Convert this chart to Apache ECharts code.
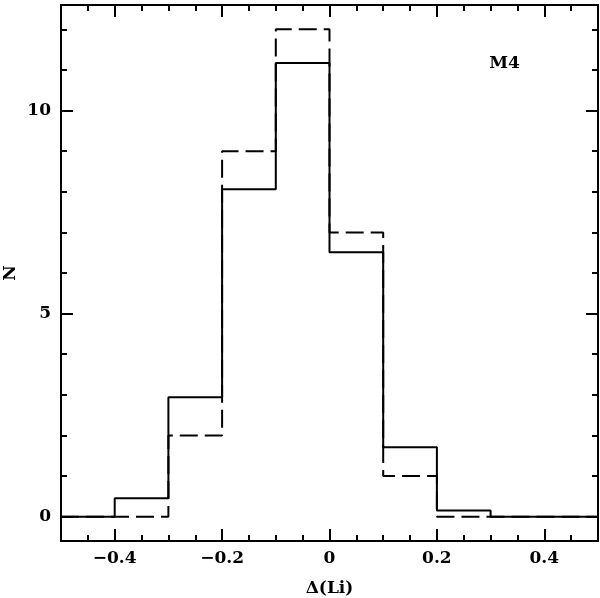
<!DOCTYPE html>
<html>
<head>
<meta charset="utf-8">
<script src="https://cdn.jsdelivr.net/npm/echarts@6/dist/echarts.min.js"></script>
<style>
  html, body { margin: 0; padding: 0; background: #fff; }
  #chart { width: 600px; height: 598px; }
</style>
</head>
<body>
<div id="chart"></div>
<script>
// bin edges on Δ(Li) and the two histograms (count per bin)
var binEdges = [-0.5, -0.4, -0.3, -0.2, -0.1, 0, 0.1, 0.2, 0.3, 0.4, 0.5];
var countsSolid = [0, 0.45, 2.94, 8.06, 11.17, 6.51, 1.71, 0.15, 0, 0];
var countsDashed = [0, 0, 2, 9, 12, 7, 1, 0, 0, 0];

// ticks
var xMajorTicks = [-0.4, -0.2, 0, 0.2, 0.4];
var xMinorTicks = [-0.45, -0.4, -0.35, -0.3, -0.25, -0.2, -0.15, -0.1, -0.05, 0,
                   0.05, 0.1, 0.15, 0.2, 0.25, 0.3, 0.35, 0.4, 0.45];
var yMajorTicks = [0, 5, 10];
var yMinorTicks = [0, 1, 2, 3, 4, 5, 6, 7, 8, 9, 10, 11, 12];

var panelLabel = 'M4';
var panelLabelAt = [0.326, 11.16];

var font = { fontFamily: 'DejaVu Serif', fontWeight: 'bold', fontSize: 17, color: '#000' };

// histogram outline: one point per left edge, step drawn by the line series
function steps(counts) {
  var pts = counts.map(function (c, i) { return [binEdges[i], c]; });
  pts.push([binEdges[binEdges.length - 1], counts[counts.length - 1]]);
  return pts;
}

function fmtX(v) {
  if (Math.abs(v) < 1e-9) return '0';
  return (v < 0 ? '\u2212' : '') + Math.abs(v).toFixed(1);
}

// one axis per tick length and side, all on the same grid
function xAxis(pos, ticks, len, main) {
  return {
    type: 'value', position: pos, min: -0.5, max: 0.5,
    axisLine: { show: main, onZero: false, lineStyle: { color: '#000', width: 2 } },
    axisTick: { show: true, inside: true, length: len, customValues: ticks,
                lineStyle: { color: '#000', width: 2 } },
    axisLabel: main && pos === 'bottom'
      ? Object.assign({ show: true, margin: 9, customValues: xMajorTicks, formatter: fmtX }, font)
      : { show: false },
    splitLine: { show: false },
    name: main && pos === 'bottom' ? '\u0394(Li)' : '',
    nameLocation: 'middle', nameGap: 39, nameMoveOverlap: false,
    nameTextStyle: font
  };
}
function yAxis(pos, ticks, len, main) {
  return {
    type: 'value', position: pos, min: -0.6, max: 12.6,
    axisLine: { show: main, onZero: false, lineStyle: { color: '#000', width: 2 } },
    axisTick: { show: true, inside: true, length: len, customValues: ticks,
                lineStyle: { color: '#000', width: 2 } },
    axisLabel: main && pos === 'left'
      ? Object.assign({ show: true, margin: 10, customValues: yMajorTicks }, font)
      : { show: false },
    splitLine: { show: false },
    name: main && pos === 'left' ? 'N' : '',
    nameLocation: 'middle', nameGap: 42, nameRotate: 90, nameMoveOverlap: false,
    nameTextStyle: font
  };
}

var chart = echarts.init(document.getElementById('chart'), null, { renderer: 'canvas' });
chart.setOption({
  animation: false,
  backgroundColor: '#fff',
  grid: { left: 61, right: 2, top: 5, bottom: 57, containLabel: false, outerBoundsMode: 'none' },
  xAxis: [
    xAxis('bottom', xMinorTicks, 6, true),
    xAxis('bottom', xMajorTicks, 12, false),
    xAxis('top', xMinorTicks, 6, true),
    xAxis('top', xMajorTicks, 12, false)
  ],
  yAxis: [
    yAxis('left', yMinorTicks, 6, true),
    yAxis('left', yMajorTicks, 12, false),
    yAxis('right', yMinorTicks, 6, true),
    yAxis('right', yMajorTicks, 12, false)
  ],
  series: [
    {
      type: 'line', step: 'end', data: steps(countsDashed), showSymbol: false,
      lineStyle: { color: '#000', width: 2, type: [18, 7] }, z: 2
    },
    {
      type: 'line', step: 'end', data: steps(countsSolid), showSymbol: false,
      lineStyle: { color: '#000', width: 2, type: 'solid' }, z: 3
    },
    {
      type: 'scatter', data: [panelLabelAt], symbolSize: 0, silent: true,
      itemStyle: { opacity: 1, color: '#000' },
      label: Object.assign({ show: true, position: 'inside', formatter: panelLabel, opacity: 1,
                             textBorderWidth: 0, textBorderColor: 'transparent' }, font)
    }
  ]
});
</script>
</body>
</html>
